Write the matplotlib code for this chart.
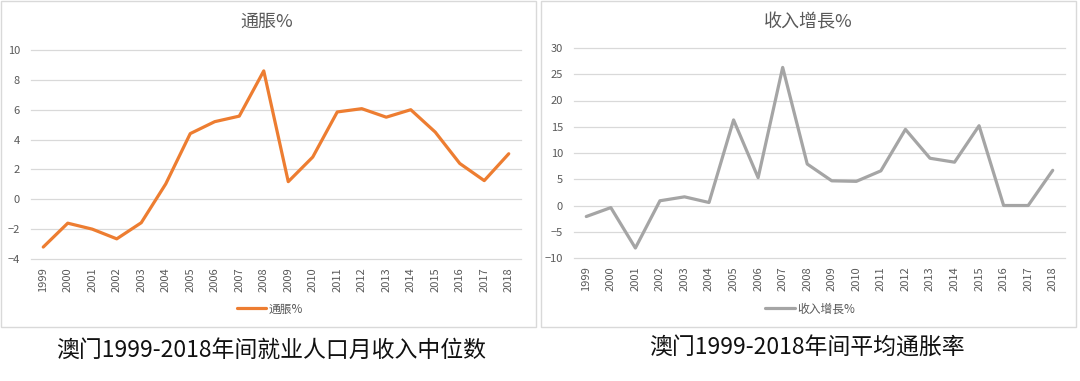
import numpy as np
import matplotlib
matplotlib.use("Agg")
import matplotlib.pyplot as plt
from matplotlib.patches import Rectangle

plt.rcParams['font.family'] = ['Noto Sans CJK SC', 'DejaVu Sans']

years = [str(y) for y in range(1999, 2019)]
inflation = [-3.2, -1.6, -2.0, -2.65, -1.57, 1.03, 4.4, 5.2, 5.57, 8.6,
             1.18, 2.83, 5.85, 6.07, 5.5, 6.0, 4.5, 2.4, 1.25, 3.05]
income_growth = [-2.1, -0.4, -8.1, 0.9, 1.65, 0.57, 16.3, 5.3, 26.3, 7.9,
                 4.7, 4.6, 6.6, 14.5, 9.0, 8.25, 15.2, 0.0, 0.0, 6.7]

W, H = 1080, 381
fig = plt.figure(figsize=(W / 100, H / 100), dpi=100)
fig.patch.set_facecolor('white')

def px_axes(x0, x1, ytop, ybot):
    return fig.add_axes([x0 / W, 1 - ybot / H, (x1 - x0) / W, (ybot - ytop) / H])

# panel frames
for x0, x1 in [(1, 536), (541, 1076)]:
    fig.patches.append(Rectangle((x0 / W, 1 - 327 / H), (x1 - x0) / W, 326 / H,
                                 transform=fig.transFigure, fill=False,
                                 ec='#d9d9d9', lw=1.0))

text_c = '#595959'

def draw(ax, values, color, ymin, ymax, step, label, title_x, leg_x):
    x = np.arange(len(years))
    ax.plot(x, values, color=color, lw=2.3, label=label, solid_capstyle='round')
    ax.set_xlim(-0.5, len(years) - 0.5)
    ax.set_ylim(ymin, ymax)
    ax.set_yticks(np.arange(ymin, ymax + step, step))
    ax.set_xticks(x)
    ax.set_xticklabels(years, rotation=90)
    ax.grid(axis='y', color='#d9d9d9', lw=0.9)
    for gl in ax.get_ygridlines():
        gl.set_clip_on(False)
    ax.set_axisbelow(True)
    for s in ax.spines.values():
        s.set_visible(False)
    ax.tick_params(length=0, labelsize=8, colors=text_c, pad=6)
    ax.tick_params(axis='y', pad=8)
    fig.text(title_x / W, 1 - 22 / H, label, ha='center', va='center',
             fontsize=13, color=text_c)
    ax.legend(loc='center', bbox_to_anchor=(leg_x / W, 1 - 309 / H),
              bbox_transform=fig.transFigure, frameon=False, fontsize=8.5,
              handlelength=2.5, handletextpad=0.2, labelcolor=text_c)

ax1 = px_axes(31, 521, 50, 259)
draw(ax1, inflation, '#ed7d31', -4, 10, 2, '通脹%', 267, 270)

ax2 = px_axes(574, 1065, 48, 258)
draw(ax2, income_growth, '#a5a5a5', -10, 30, 5, '收入增長%', 808, 810)

fig.text(271 / W, 1 - 350 / H, '澳门1999-2018年间就业人口月收入中位数',
         ha='center', va='center', fontsize=16.5, color='#111111')
fig.text(807 / W, 1 - 348 / H, '澳门1999-2018年间平均通胀率',
         ha='center', va='center', fontsize=16.5, color='#111111')

fig.savefig('out.png', dpi=100, facecolor='white')
